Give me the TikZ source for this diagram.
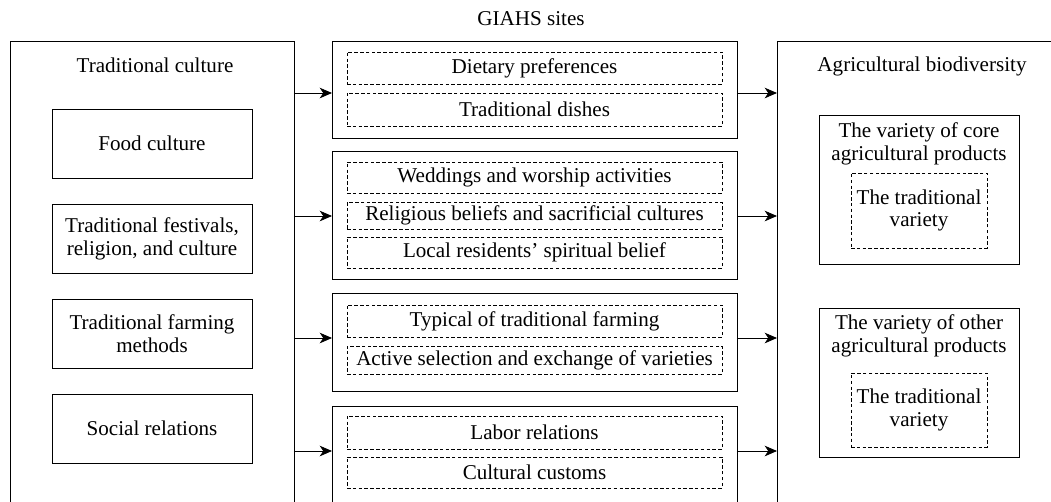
\documentclass[tikz,border=0pt]{standalone}
\usepackage{fontspec}
\setmainfont{Liberation Serif}
\usetikzlibrary{arrows.meta}

\begin{document}
\begin{tikzpicture}[x=0.02cm,y=-0.02cm,
    every node/.style={font=\fontsize{12}{13}\selectfont,align=center,inner sep=0pt,outer sep=0pt},
    solidbox/.style={draw,line width=0.5pt},
    dashbox/.style={draw,line width=0.5pt,dash pattern=on 2pt off 1.3pt},
    arr/.style={line width=0.5pt,-{Stealth[length=7pt,width=6pt,inset=2pt]}}]
    \useasboundingbox (0,0) rectangle (1051,501);
    \clip (0,0) rectangle (1051,501);

    % traditional culture
    \node (tc) at (152,280.5) [solidbox,minimum width=5.68cm,minimum height=9.58cm] {};
    \node (tctitle) at (155,65) {Traditional culture};
    \node (food) at (152,143.5) [solidbox,minimum width=4cm,minimum height=1.38cm] {Food culture};
    \node (fest) at (152,238.5) [solidbox,minimum width=4cm,minimum height=1.38cm] {Traditional festivals,\\religion, and culture};
    \node (farm) at (152,333.5) [solidbox,minimum width=4cm,minimum height=1.38cm] {Traditional farming\\methods};
    \node (soc) at (152,428.5) [solidbox,minimum width=4cm,minimum height=1.38cm] {Social relations};

    % GIAHS sites
    \node (giahs) at (531,19) {GIAHS sites};
    \node (m1) at (534.5,89.5) [solidbox,minimum width=8.1cm,minimum height=1.94cm] {};
    \node (d11) at (534.5,68) [dashbox,minimum width=7.5cm,minimum height=0.64cm] {Dietary preferences};
    \node (d12) at (534.5,109.5) [dashbox,minimum width=7.5cm,minimum height=0.66cm] {Traditional dishes};
    \node (m2) at (534.5,215) [solidbox,minimum width=8.1cm,minimum height=2.56cm] {};
    \node (d21) at (534.5,177.5) [dashbox,minimum width=7.5cm,minimum height=0.62cm] {Weddings and worship activities};
    \node (d22) at (534.5,215.5) [dashbox,minimum width=7.5cm,minimum height=0.54cm] {Religious beliefs and sacrificial cultures};
    \node (d23) at (534.5,252.5) [dashbox,minimum width=7.5cm,minimum height=0.62cm] {Local residents’ spiritual belief};
    \node (m3) at (534.5,342) [solidbox,minimum width=8.1cm,minimum height=1.96cm] {};
    \node (d31) at (534.5,321) [dashbox,minimum width=7.5cm,minimum height=0.64cm] {Typical of traditional farming};
    \node (d32) at (534.5,360) [dashbox,minimum width=7.5cm,minimum height=0.56cm] {Active selection and exchange of varieties};
    \node (m4) at (534.5,463) [solidbox,minimum width=8.1cm,minimum height=2.28cm] {};
    \node (d41) at (534.5,432.5) [dashbox,minimum width=7.5cm,minimum height=0.66cm] {Labor relations};
    \node (d42) at (534.5,472.5) [dashbox,minimum width=7.5cm,minimum height=0.62cm] {Cultural customs};

    % agricultural biodiversity
    \node (ab) at (923.5,280.5) [solidbox,minimum width=5.86cm,minimum height=9.58cm] {};
    \node (abtitle) at (922,66) {Agricultural biodiversity};
    \node (core) at (919,189.5) [solidbox,minimum width=4cm,minimum height=2.98cm] {};
    \node (coretitle) at (919,144) {The variety of core\\agricultural products};
    \node (corevar) at (919,210.5) [dashbox,minimum width=2.72cm,minimum height=1.5cm] {The traditional\\variety};
    \node (other) at (919,382.5) [solidbox,minimum width=4cm,minimum height=2.98cm] {};
    \node (othertitle) at (919,336) {The variety of other\\agricultural products};
    \node (othervar) at (919,410) [dashbox,minimum width=2.72cm,minimum height=1.48cm] {The traditional\\variety};

    \draw[arr] (tc.east |- 0,93) -- (m1.west |- 0,93);
    \draw[arr] (tc.east |- 0,216) -- (m2.west |- 0,216);
    \draw[arr] (tc.east |- 0,338) -- (m3.west |- 0,338);
    \draw[arr] (tc.east |- 0,451) -- (m4.west |- 0,451);
    \draw[arr] (m1.east |- 0,93) -- (ab.west |- 0,93);
    \draw[arr] (m2.east |- 0,216) -- (ab.west |- 0,216);
    \draw[arr] (m3.east |- 0,338) -- (ab.west |- 0,338);
    \draw[arr] (m4.east |- 0,451) -- (ab.west |- 0,451);
\end{tikzpicture}
\end{document}
